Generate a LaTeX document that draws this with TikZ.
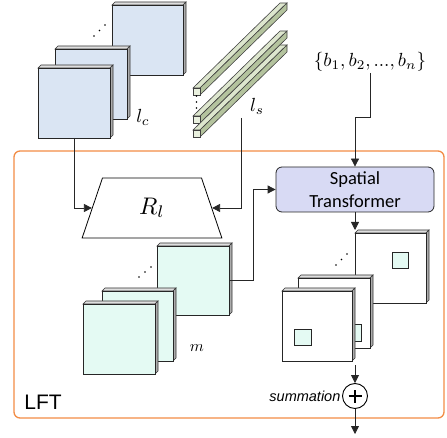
\documentclass[tikz,border=0pt]{standalone}
\usepackage{fontspec}
\newfontfamily\carlito{Carlito}
\newfontfamily\arialf{Liberation Sans}
\usetikzlibrary{shapes.geometric,arrows.meta}
\definecolor{bluefill}{HTML}{DAE5F3}
\definecolor{mintfill}{HTML}{E4FAF3}
\definecolor{stfill}{HTML}{D8DAF4}
\definecolor{lftorange}{HTML}{F28C45}
\definecolor{bartop}{HTML}{DDE6CE}
\definecolor{barside}{HTML}{B4C39E}
\definecolor{barfront}{HTML}{E9F0DE}
\tikzset{
  slabface/.style={draw=black!85, line width=0.7pt, anchor=north west, inner sep=0, outer sep=0},
  slabedge/.style={draw=black!80, line width=0.6pt},
  baredge/.style={draw=black!75, line width=0.6pt},
  conn/.style={draw=black!85, line width=0.8pt},
  arr/.style={-{Triangle[length=8pt,width=8pt]}},
  dotmark/.style={fill=black, radius=0.9},
  smallsq/.style={draw=black!85, fill=mintfill, line width=0.7pt, minimum width=16pt, minimum height=16pt, inner sep=0, anchor=north west}
}
\newcommand\slab[6]{%
  \filldraw[slabedge, fill=gray!25] (#2,#3) -- ({#2+3},{#3-3}) -- ({#2+#4+3},{#3-3}) -- ({#2+#4},#3) -- cycle;
  \filldraw[slabedge, fill=gray!65] ({#2+#4},#3) -- ({#2+#4+3},{#3-3}) -- ({#2+#4+3},{#3+#5-3}) -- ({#2+#4},{#3+#5}) -- cycle;
  \node[slabface, fill=#6, minimum width=#4pt, minimum height=#5pt] (#1) at (#2,#3) {};
}
\newcommand\drawbar[2]{%
  \filldraw[baredge, fill=bartop] (#1,#2) -- ({#1+7},#2) -- ({#1+94},{#2-85}) -- ({#1+87},{#2-85}) -- cycle;
  \filldraw[baredge, fill=barside] ({#1+7},#2) -- ({#1+7},{#2+7}) -- ({#1+94},{#2-78}) -- ({#1+94},{#2-85}) -- cycle;
  \filldraw[baredge, fill=barfront] (#1,#2) rectangle ({#1+7},{#2+7});
}
\begin{document}
\begin{tikzpicture}[x=1pt, y=-1pt]
\useasboundingbox (0,0) rectangle (447,438);
% LFT frame
\draw[lftorange, line width=1.3pt, rounded corners=6pt] (14,151) rectangle (444,418);
\node[font=\arialf\fontsize{21}{24}\selectfont, inner sep=0] (lft) at (43,402.5) {LFT};

% blue stack (l_c)
\slab{bb}{112}{5}{71}{70}{bluefill}
\fill[dotmark] (94,36) circle; \fill[dotmark] (99.5,30.5) circle; \fill[dotmark] (105,25) circle;
\slab{bm}{55}{49}{72}{70}{bluefill}
\slab{bf}{38}{68}{72}{70}{bluefill}
\node[scale=1.9, inner sep=0] (lc) at (143,117) {$l_c$};

% bars (l_s)
\drawbar{193}{88}
\drawbar{193}{116}
\drawbar{193}{130}
\fill[dotmark] (196.5,96) circle; \fill[dotmark] (196.5,102) circle; \fill[dotmark] (196.5,108) circle;
\node[scale=1.9, inner sep=0] (ls) at (257,106) {$l_s$};

% set of boxes
\node[scale=1.9, inner sep=0.5pt] (bset) at (370,62) {$\{b_1,b_2,...,b_n\}$};

% R_l
\node[trapezium, trapezium angle=76, trapezium stretches=true, draw=black, line width=0.8pt,
      minimum width=140pt, minimum height=60pt, inner sep=3pt] (rl) at (152,208) {\scalebox{2.4}{$R_l$}};

% Spatial Transformer
\node[draw=black!85, line width=0.8pt, fill=stfill, rounded corners=6pt, minimum width=158pt,
      minimum height=45pt, align=center, inner sep=0,
      font=\carlito\fontsize{18.5}{23}\selectfont] (st) at (355,189.5) {Spatial\\Transformer};

% green stack (m)
\slab{gb}{157}{246}{72}{69}{mintfill}
\fill[dotmark] (139,277) circle; \fill[dotmark] (145,272) circle; \fill[dotmark] (151,267) circle;
\slab{gm}{102}{291}{71}{70}{mintfill}
\slab{gf}{83}{304}{72}{70}{mintfill}
\node[scale=1.6, inner sep=0] (m) at (197,348) {$m$};

% white stack
\slab{wb}{355}{233}{71}{70}{white}
\node[smallsq] (sqb) at (392,252) {};
\fill[dotmark] (336,265) circle; \fill[dotmark] (341.5,259.5) circle; \fill[dotmark] (347,254) circle;
\slab{wm}{298}{278}{72}{70}{white}
\node[smallsq, minimum height=17pt] (sqm) at (345,324) {};
\slab{wf}{282}{291}{70}{70}{white}
\node[smallsq, minimum width=17pt] (sqf) at (294,329) {};

% summation
\node[circle, draw=black, line width=0.9pt, minimum size=25pt, inner sep=0] (plus) at (355,396) {};
\draw[line width=1.3pt] ([xshift=-6.5pt]plus.center) -- ([xshift=6.5pt]plus.center);
\draw[line width=1.3pt] ([yshift=-6.5pt]plus.center) -- ([yshift=6.5pt]plus.center);
\node[font=\arialf\itshape\fontsize{14.5}{17}\selectfont, anchor=east, inner sep=1.5pt] (sumlbl) at (plus.west) {summation};

% connectors
\coordinate (lsend) at (241,118);
\coordinate (wtop) at (355,230);
\coordinate (wbot) at (355,365);
\coordinate (out) at (355,434);
\draw[conn, arr] (bf.south) |- (rl.left side);
\draw[conn, arr] (lsend) |- (rl.right side);
\draw[conn, arr] (bset.south) -- ++(0,45) -| (st.north);
\draw[conn, arr] (gb.east) -- ++(24,0) |- (st.west);
\draw[conn, arr] (st.south) -- (wtop);
\draw[conn, arr] (wbot) -- (plus.north);
\draw[conn, arr] (plus.south) -- (out);
\end{tikzpicture}
\end{document}
